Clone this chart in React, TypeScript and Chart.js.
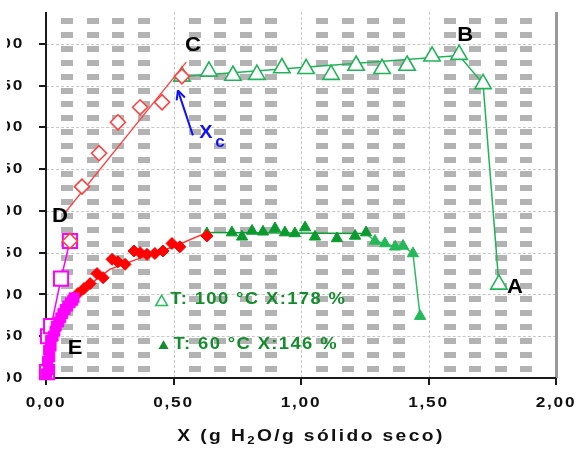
import React, { useEffect, useRef, useState } from "react";
import { Chart, registerables } from "chart.js";
Chart.register(...registerables);

// ---------- data ----------
const xTickValues = [0, 0.5, 1, 1.5, 2];
const yTickValues = [0, 0.5, 1, 1.5, 2, 2.5, 3, 3.5, 4];

// T = 100 °C (open triangles)
const t100X = [0.533, 0.639, 0.733, 0.827, 0.925, 1.02, 1.118, 1.216, 1.318, 1.416, 1.514, 1.62, 1.714, 1.776];
const t100Y = [3.61, 3.67, 3.62, 3.63, 3.71, 3.7, 3.63, 3.74, 3.7, 3.74, 3.85, 3.87, 3.52, 1.12];
const t100LineX = [0.55, 1.62, 1.714, 1.776];
const t100LineY = [3.61, 3.86, 3.52, 1.12];

// T = 60 °C (filled triangles)
const t60X = [0.631, 0.729, 0.769, 0.808, 0.851, 0.898, 0.937, 0.976, 1.016, 1.055, 1.141, 1.212, 1.255];
const t60Y = [1.73, 1.74, 1.69, 1.76, 1.75, 1.79, 1.74, 1.73, 1.8, 1.69, 1.67, 1.7, 1.74];
const t60DropX = [1.29, 1.329, 1.369, 1.4, 1.439, 1.467];
const t60DropY = [1.64, 1.61, 1.57, 1.58, 1.49, 0.74];
const t60LineX = [0.63, 1.255];
const t60LineY = [1.74, 1.73];
const t60DropLineX = [1.255, 1.29, 1.329, 1.369, 1.4, 1.439, 1.467];
const t60DropLineY = [1.73, 1.64, 1.61, 1.57, 1.58, 1.49, 0.74];

// red open diamonds (D -> C) and fit
const redOpenX = [0.094, 0.141, 0.208, 0.282, 0.369, 0.455, 0.533];
const redOpenY = [1.64, 2.29, 2.69, 3.06, 3.24, 3.3, 3.61];
const redFitX = [0.07, 0.55];
const redFitY = [1.96, 3.78];

// red filled diamonds and fit
const redFillX = [0.125, 0.149, 0.173, 0.2, 0.224, 0.259, 0.282, 0.31, 0.345, 0.369, 0.396, 0.427, 0.459, 0.494, 0.525, 0.631];
const redFillY = [1.01, 1.07, 1.13, 1.25, 1.2, 1.42, 1.39, 1.36, 1.52, 1.5, 1.48, 1.49, 1.52, 1.61, 1.57, 1.7];
const redFillFitX = [0.11, 0.25, 0.4, 0.5, 0.63];
const redFillFitY = [0.98, 1.3, 1.47, 1.57, 1.74];

// magenta open squares (E -> D) and filled squares
const magOpenX = [0.004, 0.008, 0.02, 0.059, 0.094];
const magOpenY = [0.07, 0.5, 0.62, 1.19, 1.64];
const magFillX = [0.002, 0.01, 0.006, 0.015, 0.01, 0.02, 0.018, 0.028, 0.035, 0.04, 0.05, 0.058, 0.066, 0.075, 0.085, 0.095, 0.105, 0.11];
const magFillY = [0.05, 0.1, 0.2, 0.25, 0.33, 0.38, 0.45, 0.5, 0.56, 0.62, 0.67, 0.72, 0.77, 0.82, 0.86, 0.9, 0.93, 0.96];

const xTitle = ["X (g H", "2", "O/g sólido seco)"];
const legend100 = ["△", "T: 100 °C X:178 %"];
const legend60 = ["▲", "T: 60 °C X:146 %"];

// ---------- helpers ----------
const zip = (xs: number[], ys: number[]) => xs.map((x, i) => ({ x, y: ys[i] }));
const FONT = '"Liberation Sans", Arial, sans-serif';
const fmt = (v: number) => v.toFixed(2).replace(".", ",");

type Seg = { text: string; size: number; color: string; dy?: number };

function drawRich(ctx: CanvasRenderingContext2D, segs: Seg[], x: number, y: number, align: string, sx: number, spacing: number) {
  ctx.save();
  (ctx as any).letterSpacing = spacing + "px";
  ctx.textBaseline = "middle";
  ctx.textAlign = "left";
  const widths = segs.map((s) => {
    ctx.font = `bold ${s.size}px ${FONT}`;
    return ctx.measureText(s.text).width;
  });
  const total = widths.reduce((a, b) => a + b, 0) * sx;
  let x0 = x;
  if (align === "center") x0 = x - total / 2;
  else if (align === "right") x0 = x - total;
  ctx.translate(x0, y);
  ctx.scale(sx, 1);
  let cx = 0;
  segs.forEach((s, i) => {
    ctx.font = `bold ${s.size}px ${FONT}`;
    ctx.fillStyle = s.color;
    ctx.fillText(s.text, cx, s.dy || 0);
    cx += widths[i];
  });
  (ctx as any).letterSpacing = "0px";
  ctx.restore();
}

function drawTexts(chart: any) {
  const ctx: CanvasRenderingContext2D = chart.ctx;
  const { left, right, bottom } = chart.chartArea;
  const xs = chart.scales.x;
  const ys = chart.scales.y;
  const px = (x: number, y: number) => [xs.getPixelForValue(x), ys.getPixelForValue(y)];
  for (const v of xTickValues) {
    drawRich(ctx, [{ text: fmt(v), size: 15, color: "#111" }], xs.getPixelForValue(v), bottom + 25, "center", 1.15, 1.5);
  }
  ctx.save();
  ctx.beginPath();
  ctx.rect(7, 0, left, chart.height);
  ctx.clip();
  for (const v of yTickValues) {
    drawRich(ctx, [{ text: fmt(v), size: 15, color: "#111" }], left - 22, ys.getPixelForValue(v), "right", 1.15, 1.5);
  }
  ctx.restore();
  drawRich(
    ctx,
    [
      { text: xTitle[0], size: 16, color: "#111" },
      { text: xTitle[1], size: 11, color: "#111", dy: 4 },
      { text: xTitle[2], size: 16, color: "#111" },
    ],
    (left + right) / 2 + 10,
    bottom + 59,
    "center",
    1.2,
    2
  );
  const lbl = (t: string, x: number, y: number, dx: number, dy: number) => {
    const [a, b] = px(x, y);
    drawRich(ctx, [{ text: t, size: 21, color: "#000" }], a + dx, b + dy, "center", 1.05, 0);
  };
  lbl("C", t100X[0], t100Y[0], 11, -31);
  lbl("B", t100X[11], t100Y[11], 6, -19);
  lbl("A", t100X[13], t100Y[13], 16, 3);
  lbl("D", magOpenX[4], magOpenY[4], -10, -25);
  lbl("E", magOpenX[0], magOpenY[0], 28, -24);
  const [cx, cy] = px(t100X[0], t100Y[0]);
  const tipX = cx - 4, tipY = cy + 14, tailX = cx + 11, tailY = cy + 59;
  ctx.save();
  ctx.strokeStyle = "#1010ff";
  ctx.lineWidth = 2;
  ctx.beginPath();
  ctx.moveTo(tailX, tailY);
  ctx.lineTo(tipX, tipY);
  ctx.stroke();
  const ang = Math.atan2(tipY - tailY, tipX - tailX);
  ctx.beginPath();
  ctx.moveTo(tipX, tipY);
  ctx.lineTo(tipX - 10 * Math.cos(ang - 0.45), tipY - 10 * Math.sin(ang - 0.45));
  ctx.moveTo(tipX, tipY);
  ctx.lineTo(tipX - 10 * Math.cos(ang + 0.45), tipY - 10 * Math.sin(ang + 0.45));
  ctx.stroke();
  ctx.restore();
  drawRich(ctx, [{ text: "X", size: 19, color: "#1010ff" }], cx + 24, cy + 56, "center", 1.05, 0);
  drawRich(ctx, [{ text: "c", size: 16, color: "#1010ff" }], cx + 38, cy + 66, "center", 1.05, 0);
  drawRich(
    ctx,
    [
      { text: legend100[0], size: 15, color: "#2dbb5f" },
      { text: legend100[1], size: 16, color: "#138c2c" },
    ],
    left + 109,
    300,
    "left",
    1.15,
    1.2
  );
  drawRich(
    ctx,
    [
      { text: legend60[0], size: 15, color: "#138c2c" },
      { text: legend60[1], size: 16, color: "#138c2c" },
    ],
    left + 109,
    345,
    "left",
    1.15,
    1.2
  );
}

const textPlugin = {
  id: "texts",
  afterDraw(chart: any) {
    const ctx: CanvasRenderingContext2D = chart.ctx;
    ctx.save();
    drawTexts(chart);
    ctx.restore();
  },
};

type Layout = {
  left: number;
  right: number;
  top: number;
  bottom: number;
  rects: { x: number; y: number }[];
  xs: number[];
  ys: number[];
};

// plot-area background geometry, taken from the chart's own scales
function computeLayout(chart: any): Layout {
  const { left, right, top, bottom } = chart.chartArea;
  const xs = chart.scales.x;
  const ys = chart.scales.y;
  const colStep = (xs.getPixelForValue(0.5) - xs.getPixelForValue(0)) / 5;
  const rowStep = (ys.getPixelForValue(0) - ys.getPixelForValue(0.5)) / 3;
  const rects: { x: number; y: number }[] = [];
  for (let v = 0; v < 2; v += 0.5) {
    const s = xs.getPixelForValue(v);
    for (let k = 0; k < 4; k++) {
      const cx = s + colStep * (0.84 + k);
      for (let w = 0; w <= 4.5; w += 0.5) {
        const g = ys.getPixelForValue(w);
        for (let r = 0; r < 3; r++) {
          const cy = g + 5 + rowStep * r;
          if (cy - 3 >= top && cy + 3 <= bottom && cx + 6 <= right) {
            rects.push({ x: Math.round(cx - 6), y: Math.round(cy - 3) });
          }
        }
      }
    }
  }
  return {
    left,
    right,
    top,
    bottom,
    rects,
    xs: xTickValues.map((v) => xs.getPixelForValue(v)),
    ys: yTickValues.map((v) => ys.getPixelForValue(v)),
  };
}

export default function App() {
  const ref = useRef<HTMLCanvasElement | null>(null);
  const [lay, setLay] = useState<Layout | null>(null);
  useEffect(() => {
    if (!ref.current) return;
    const line = (xs: number[], ys: number[], color: string, width: number) => ({
      data: zip(xs, ys),
      showLine: true,
      fill: false,
      borderColor: color,
      backgroundColor: color,
      borderWidth: width,
      pointRadius: 0,
    });
    const pts = (xs: number[], ys: number[], style: string, r: number, border: string, fill: string, bw: number) => ({
      data: zip(xs, ys),
      showLine: false,
      fill: false,
      pointStyle: style,
      pointRadius: r,
      borderColor: border,
      backgroundColor: fill,
      pointBorderColor: border,
      pointBackgroundColor: fill,
      pointBorderWidth: bw,
      borderWidth: bw,
      clip: false,
    });
    const sets: any[] = [
      line(t100LineX, t100LineY, "#22b35a", 1.5),
      pts(t100X, t100Y, "triangle", 9.5, "#22b35a", "#ffffff", 1.6),
      line(t60LineX, t60LineY, "#0f9a35", 1.5),
      line(t60DropLineX, t60DropLineY, "#2dbb5f", 1.5),
      pts(t60X, t60Y, "triangle", 6.5, "#0a9a2e", "#0a9a2e", 1),
      pts(t60DropX, t60DropY, "triangle", 6.5, "#25b858", "#25b858", 1),
      line(redFillFitX, redFillFitY, "#ff3030", 1.5),
      pts(redFillX, redFillY, "rectRot", 6, "#ff0000", "#ff0000", 1),
      line(magOpenX, magOpenY, "#ff00ff", 1.5),
      pts(magOpenX, magOpenY, "rect", 10, "#ff00ff", "#ffffff", 2),
      pts(magFillX, magFillY, "rect", 7, "#ff00ff", "#ff00ff", 1),
      line(redFitX, redFitY, "#ff4040", 1.3),
      pts(redOpenX, redOpenY, "rectRot", 7.5, "#ff4040", "#ffffff", 1.6),
    ];
    sets.forEach((s, i) => (s.order = 100 - i));
    const chart = new Chart(ref.current, {
      type: "scatter",
      data: { datasets: sets },
      plugins: [textPlugin as any],
      options: {
        responsive: false,
        animation: false,
        devicePixelRatio: 1,
        layout: { padding: { left: 0, right: 23, top: 10, bottom: 0 } },
        plugins: { legend: { display: false }, tooltip: { enabled: false } },
        scales: {
          x: {
            type: "linear",
            min: 0,
            max: 2,
            afterFit: (s: any) => {
              s.height = 71;
            },
            ticks: { display: false, stepSize: 0.5 },
            grid: { display: false },
            border: { display: false },
          },
          y: {
            type: "linear",
            min: 0,
            max: 4.38,
            afterFit: (s: any) => {
              s.width = 46;
            },
            ticks: { display: false, stepSize: 0.5 },
            grid: { display: false },
            border: { display: false },
          },
        },
      } as any,
    });
    setLay(computeLayout(chart));
    return () => chart.destroy();
  }, []);

  const abs = (s: React.CSSProperties): React.CSSProperties => ({ position: "absolute", ...s });

  return (
    <div style={{ position: "fixed", left: 0, top: 0, width: 579, height: 449, overflow: "hidden", background: "#fff" }}>
      {lay && (
        <div style={abs({ left: 0, top: 0, width: 579, height: 449 })}>
          {lay.rects.map((r, i) => (
            <div key={"r" + i} style={abs({ left: r.x, top: r.y, width: 12, height: 6, background: "#b3b3b3" })} />
          ))}
          {lay.ys.map((y, i) => (
            <div
              key={"gy" + i}
              style={abs({ left: lay.left, top: Math.round(y), width: lay.right - lay.left, height: 0, borderTop: "1px dashed #c8c8c8" })}
            />
          ))}
          {lay.xs.map((x, i) => (
            <div
              key={"gx" + i}
              style={abs({ left: Math.round(x), top: lay.top, width: 0, height: lay.bottom - lay.top, borderLeft: "1px dashed #c8c8c8" })}
            />
          ))}
          <div style={abs({ left: lay.right - 1, top: lay.top, width: 2.5, height: lay.bottom - lay.top, background: "#9a9a9a" })} />
          {lay.ys.map((y, i) => (
            <div key={"ty" + i} style={abs({ left: lay.left - 7, top: y - 1, width: 7, height: 2, background: "#1a1a1a" })} />
          ))}
          {lay.xs.map((x, i) => (
            <div key={"tx" + i} style={abs({ left: x - 1, top: lay.bottom, width: 2, height: 7, background: "#1a1a1a" })} />
          ))}
          <div style={abs({ left: lay.left - 1.25, top: lay.top, width: 2.5, height: lay.bottom - lay.top + 1.25, background: "#1a1a1a" })} />
          <div style={abs({ left: lay.left - 1.25, top: lay.bottom - 1.25, width: lay.right - lay.left + 1.25, height: 2.5, background: "#1a1a1a" })} />
        </div>
      )}
      <canvas ref={ref} width={579} height={449} style={{ position: "absolute", left: 0, top: 0, width: 579, height: 449 }} />
    </div>
  );
}
